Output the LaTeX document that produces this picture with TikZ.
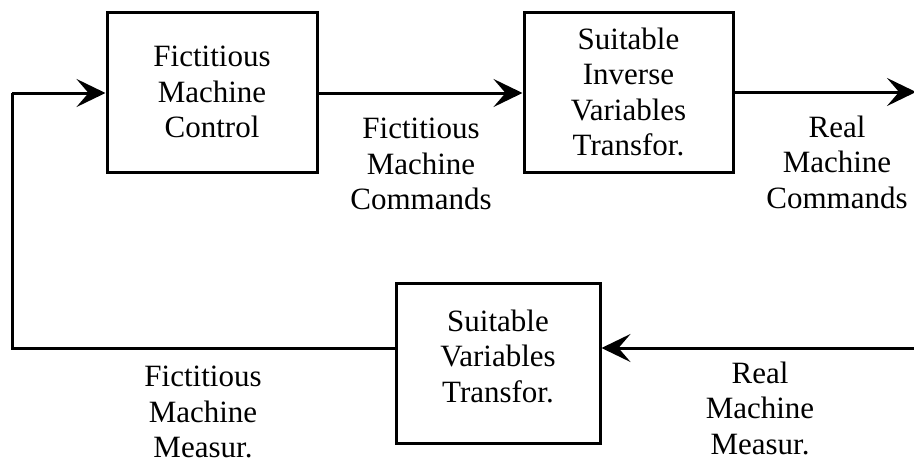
\documentclass[tikz,border=0pt]{standalone}
\usepackage{fontspec}
\setmainfont{Liberation Serif}
\usetikzlibrary{arrows.meta}
\begin{document}
\begin{tikzpicture}[x=1pt,y=-1pt,
  blk/.style={draw,line width=3pt,inner sep=0pt,minimum height=160pt},
  txt/.style={align=center,inner sep=0pt,font=\fontsize{31}{35.5}\selectfont},
  flow/.style={line width=3pt,-{Stealth[length=29pt,width=28pt,inset=12pt]}},
  wire/.style={line width=3pt}]
\useasboundingbox (0,0) rectangle (914,463);
\node[blk,minimum width=210pt] (b1) at (212,92) {};
\node[blk,minimum width=209pt] (b2) at (628.5,92) {};
\node[blk,minimum width=204pt] (b3) at (498,363) {};
\node[txt] (t1) at (212,92) {Fictitious\\Machine\\Control};
\node[txt] (t2) at (628.5,92) {Suitable\\Inverse\\Variables\\Transfor.};
\node[txt] (t3) at (498,356) {Suitable\\Variables\\Transfor.};
\node[txt] (l1) at (421,164) {Fictitious\\Machine\\Commands};
\node[txt] (l2) at (837,162) {Real\\Machine\\Commands};
\node[txt] (l3) at (203,412) {Fictitious\\Machine\\Measur.};
\node[txt] (l4) at (760,408) {Real\\Machine\\Measur.};
\coordinate (outR) at (916,92);
\coordinate (inR) at (914,348);
\coordinate (cBL) at (12,348);
\coordinate (cTL) at (12,93);
\draw[flow] (b1.east |- 0,93) -- (b2.west |- 0,93);
\draw[flow] (b2.east |- outR) -- (outR);
\draw[flow] (inR) -- (b3.east |- inR);
\draw[wire] (b3.west |- cBL) -- (cBL) -- (cTL);
\draw[flow] (cTL) -- (b1.west |- cTL);
\end{tikzpicture}
\end{document}
